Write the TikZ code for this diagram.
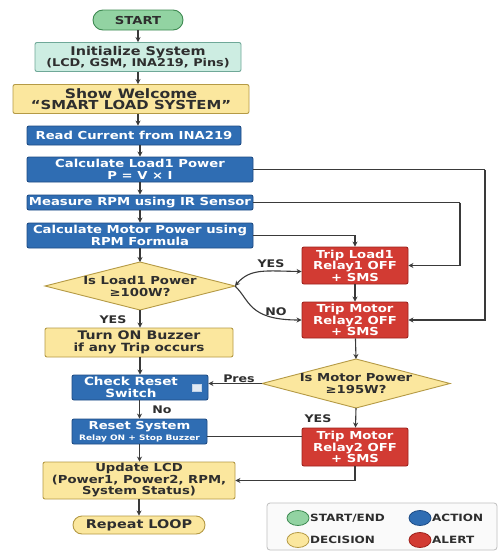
\documentclass[tikz,border=0pt]{standalone}
\usepackage{fontspec}
\setmainfont{DejaVu Sans}[FakeStretch=1.2]
\usetikzlibrary{shapes.geometric,arrows.meta,calc}
\definecolor{gfill}{HTML}{92D3A2}
\definecolor{gline}{HTML}{3E8A52}
\definecolor{tfill}{HTML}{CDEDE2}
\definecolor{tline}{HTML}{6FA898}
\definecolor{yfill}{HTML}{FBE79E}
\definecolor{yline}{HTML}{B59A45}
\definecolor{bfill}{HTML}{2F6DB3}
\definecolor{bline}{HTML}{1E4C85}
\definecolor{rfill}{HTML}{D23B33}
\definecolor{rline}{HTML}{9E221C}
\definecolor{txt}{HTML}{2E2E2E}
\definecolor{conn}{HTML}{3A3A3A}
\newcommand{\fsz}[1]{\fontsize{#1}{#1}\selectfont}
\tikzset{
  base/.style={draw, line width=0.9pt, inner sep=1pt, align=center, font=\bfseries\fontsize{11}{11.5}\selectfont},
  termbox/.style={base, fill=gfill, draw=gline, rounded corners=10pt, text=txt},
  initbox/.style={base, fill=tfill, draw=tline, rounded corners=2pt, text=txt},
  ybox/.style={base, fill=yfill, draw=yline, rounded corners=2pt, text=txt},
  actbox/.style={base, fill=bfill, draw=bline, rounded corners=2pt, text=white},
  alertbox/.style={base, fill=rfill, draw=rline, rounded corners=2pt, text=white},
  dectext/.style={align=center, inner sep=0pt, text=txt, font=\bfseries\fontsize{11}{12}\selectfont},
  decshape/.style={fill=yfill, draw=yline, line width=0.9pt},
  arr/.style={draw=conn, line width=1.1pt, -{Stealth[length=5pt,width=5pt]}},
  ln/.style={draw=conn, line width=1.1pt},
  lbl/.style={font=\bfseries\fontsize{10.5}{11}\selectfont, text=txt, inner sep=0pt},
  legdot/.style={ellipse, draw, line width=0.8pt, minimum width=22pt, minimum height=15pt, inner sep=0pt},
  legtxt/.style={anchor=west, font=\bfseries\fontsize{10}{11}\selectfont, text=txt, inner sep=0pt}
}
\begin{document}
\begin{tikzpicture}[x=1pt,y=-1pt]
\useasboundingbox (0,0) rectangle (499,552);
\fill[white] (0,0) rectangle (499,552);
% left column
\node[termbox, minimum width=90pt, minimum height=20pt] (start) at (138,20) {START};
\node[initbox, minimum width=206pt, minimum height=29pt] (init) at (138,57) {{\fsz{12}Initialize System}\\{\fsz{10.7}(LCD, GSM, INA219, Pins)}};
\node[ybox, minimum width=236pt, minimum height=29pt] (welcome) at (131,99) {{\fsz{13}Show Welcome}\\{\fsz{12.4}``SMART LOAD SYSTEM''}};
\node[actbox, minimum width=214pt, minimum height=19pt] (read) at (134,135.5) {Read Current from INA219};
\node[actbox, minimum width=226pt, minimum height=25pt] (calc1) at (140,169.5) {Calculate Load1 Power\\P = V × I};
\node[actbox, minimum width=226pt, minimum height=15pt] (rpm) at (140,202.5) {Measure RPM using IR Sensor};
\node[actbox, minimum width=226pt, minimum height=25pt] (calcm) at (140,235.5) {Calculate Motor Power using\\RPM Formula};
% decision 1 (drawn as polygon)
\coordinate (d1n) at (140,262);
\coordinate (d1e) at (235,286);
\coordinate (d1s) at (140,310);
\coordinate (d1w) at (45,286);
\draw[decshape] (d1n) -- (d1e) -- (d1s) -- (d1w) -- cycle;
\node[dectext] (d1) at (140,286) {Is Load1 Power\\≥100W?};
\node[ybox, minimum width=188pt, minimum height=29pt] (buzz) at (139,342.5) {{\fsz{11.8}Turn ON Buzzer}\\{\fsz{11.3}if any Trip occurs}};
\node[actbox, minimum width=136pt, minimum height=25pt] (check) at (140,387.5) {};
\node[lbl, text=white, align=center, font=\bfseries\fontsize{11.3}{11.5}\selectfont] (checkt) at (131,387.5) {Check Reset\\Switch};
\node[draw=white!70!bfill, fill=white!85!bfill, minimum width=9pt, minimum height=7pt, inner sep=0pt] (icon) at (197,387.5) {};
\node[actbox, minimum width=135pt, minimum height=25pt] (reset) at (139.5,431.5) {Reset System\\{\fontsize{7.5}{8}\selectfont Relay ON + Stop Buzzer}};
\node[ybox, minimum width=192pt, minimum height=37pt] (lcd) at (139,480.5) {Update LCD\\(Power1, Power2, RPM,\\System Status)};
\node[ybox, rounded corners=9pt, minimum width=132pt, minimum height=18pt, font=\bfseries\fsz{12}] (loop) at (139,525) {Repeat LOOP};
% right column
\node[alertbox, minimum width=106pt, minimum height=37pt] (trip1) at (355,265.5) {Trip Load1\\Relay1 OFF\\+ SMS};
\node[alertbox, minimum width=106pt, minimum height=36pt] (trip2) at (355,320) {Trip Motor\\Relay2 OFF\\+ SMS};
\coordinate (d2n) at (356,359);
\coordinate (d2e) at (450,383.5);
\coordinate (d2s) at (356,408);
\coordinate (d2w) at (262,383.5);
\draw[decshape] (d2n) -- (d2e) -- (d2s) -- (d2w) -- cycle;
\node[dectext] (d2) at (356,383.5) {Is Motor Power\\≥195W?};
\node[alertbox, minimum width=106pt, minimum height=38pt] (trip3) at (355,447) {Trip Motor\\Relay2 OFF\\+ SMS};
% main flow
\draw[arr] (start) -- (init);
\draw[arr] (init) -- (welcome.north -| init);
\draw[arr] (welcome.south -| init) -- (read.north -| init);
\draw[arr] (read.south -| calc1) -- (calc1);
\draw[arr] (calc1) -- (rpm);
\draw[arr] (rpm) -- (calcm);
\draw[arr] (calcm) -- (d1n);
\draw[arr] (d1s) -- (buzz.north -| d1s);
\draw[arr] (buzz.south -| check) -- (check);
\draw[arr] (check.south -| reset) -- (reset);
\draw[arr] (reset) -- (lcd.north -| reset);
\draw[arr] (lcd) -- (loop);
\node[lbl] (yes1) at (113,320) {YES};
\node[lbl] (no1) at (162,410) {No};
% feedback lines
\coordinate (c1) at (485,169.5);
\coordinate (c2) at (460,202.5);
\draw[ln] (calc1.east) -- (c1);
\draw[arr] (c1) |- (trip2.east);
\draw[ln] (rpm.east) -- (c2);
\draw[arr] (c2) |- (trip1.east);
\draw[arr] (calcm.east) -| (trip1.north);
\draw[arr] (trip1) -- (trip2);
\draw[arr] (trip2) -- (d2n);
\draw[arr] (d2s) -- (trip3);
\node[lbl] (yes3) at (318,419) {YES};
% decision 1 branches
\draw[draw=conn, line width=1.1pt, {Stealth[length=5pt,width=5pt]}-{Stealth[length=5pt,width=5pt]}] (d1e) .. controls (250,268) and (266,271) .. ([yshift=-6pt]trip1.west);
\draw[arr] (d1e) .. controls (250,300) and (248,320) .. (trip2.west);
\node[lbl] (yes2) at (271,264) {YES};
\node[lbl] (no2) at (276,312) {NO};
% reset switch
\draw[arr] (d2w) -- (d2w -| check.east);
\node[lbl] (pres) at (239,379) {Pres};
\draw[ln] ([yshift=-5pt]reset.east) -- ([yshift=-5pt]reset.east -| trip3.west);
\draw[arr] (trip3.south) |- (lcd.east);
% legend
\draw[draw=black!25, fill=black!2, line width=0.8pt, rounded corners=3pt] (267,503) rectangle (497,550);
\node[legdot, fill=gfill, draw=gline] (lg1) at (298,518) {};
\node[legtxt] (lt1) at (310,518) {START/END};
\node[legdot, fill=bfill, draw=bline] (lg2) at (420,518) {};
\node[legtxt] (lt2) at (432,518) {ACTION};
\node[legdot, fill=yfill, draw=yline] (lg3) at (298,540) {};
\node[legtxt] (lt3) at (310,540) {DECISION};
\node[legdot, fill=rfill, draw=rline] (lg4) at (420,540) {};
\node[legtxt] (lt4) at (432,540) {ALERT};
\end{tikzpicture}
\end{document}
